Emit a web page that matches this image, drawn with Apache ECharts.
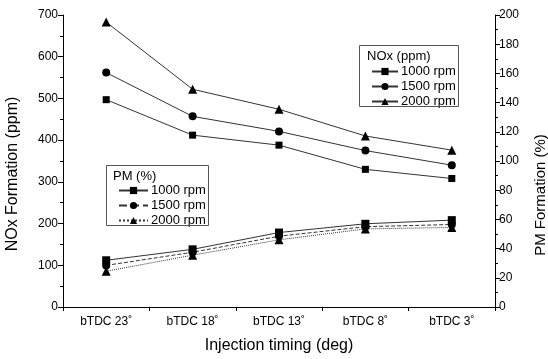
<!DOCTYPE html>
<html><head><meta charset="utf-8">
<script src="https://cdn.jsdelivr.net/npm/echarts@6/dist/echarts.min.js"></script>
<style>html,body{margin:0;padding:0;background:#fff}#c{width:548px;height:359px}</style>
</head><body><div id="c"></div>
<script>
var categories = ['bTDC 23˚', 'bTDC 18˚', 'bTDC 13˚', 'bTDC 8˚', 'bTDC 3˚'];
var nox1000 = [497, 412, 388, 330, 308];
var nox1500 = [562, 457, 421, 375, 340];
var nox2000 = [683, 522, 474, 410, 376];
var pm1000 = [32, 39.5, 51, 57, 59.5];
var pm1500 = [28.5, 37.5, 48.5, 55, 56.5];
var pm2000 = [24.5, 35.5, 46, 53.5, 54.5];
var leftTicks = [0, 100, 200, 300, 400, 500, 600, 700];
var rightTicks = [0, 20, 40, 60, 80, 100, 120, 140, 160, 180, 200];

var FONT = 'Liberation Sans, Arial, sans-serif';
var lineCol = '#333';
function mk(name, data, sym, size, type, yIdx) {
  return {
    name: name, type: 'line', data: data, yAxisIndex: yIdx, xAxisIndex: 0,
    symbol: sym, symbolSize: size, showSymbol: true,
    lineStyle: { color: lineCol, width: 1, type: type },
    itemStyle: { color: '#000' },
    emphasis: { disabled: true }, animation: false
  };
}
var chart = echarts.init(document.getElementById('c'));
var grid = { left: 63, right: 53, top: 15, bottom: 48 };
chart.setOption({
  animation: false,
  textStyle: { fontFamily: FONT },
  grid: grid,
  xAxis: [{
    type: 'category', data: categories, boundaryGap: true,
    name: 'Injection timing (deg)', nameLocation: 'middle', nameGap: 31,
    nameTextStyle: { fontSize: 16, color: '#000', fontFamily: FONT },
    axisLine: { lineStyle: { color: '#000', width: 1 } },
    axisTick: { alignWithLabel: true, length: 5, lineStyle: { color: '#000' } },
    axisLabel: { fontSize: 12, color: '#000', margin: 9, fontFamily: FONT },
    splitLine: { show: false }
  }, {
    type: 'category', data: categories, boundaryGap: true, position: 'bottom',
    axisLine: { show: false },
    axisTick: { show: true, length: 4, lineStyle: { color: '#000' } },
    axisLabel: { show: false }, splitLine: { show: false }
  }],
  yAxis: [{
    type: 'value', min: 0, max: 700, interval: 100, position: 'left',
    axisLine: { show: true, lineStyle: { color: '#000' } },
    axisTick: { show: true, length: 5, lineStyle: { color: '#000' } },
    minorTick: { show: true, splitNumber: 2, length: 3, lineStyle: { color: '#000' } },
    axisLabel: { fontSize: 12, color: '#000', margin: 5, fontFamily: FONT },
    splitLine: { show: false }
  }, {
    type: 'value', min: 0, max: 200, interval: 20, position: 'right',
    axisLine: { show: true, lineStyle: { color: '#000' } },
    axisTick: { show: true, length: 5, lineStyle: { color: '#000' } },
    minorTick: { show: true, splitNumber: 2, length: 3, lineStyle: { color: '#000' } },
    axisLabel: { fontSize: 12, color: '#000', margin: 4, fontFamily: FONT },
    splitLine: { show: false }
  }],
  legend: [{
    data: ['NOx|1000 rpm', 'NOx|1500 rpm', 'NOx|2000 rpm'],
    orient: 'vertical', left: 371, top: 65, itemWidth: 26, itemHeight: 9, itemGap: 2,
    formatter: function (n) { return n.split('|')[1]; },
    textStyle: { fontSize: 13, color: '#000', fontFamily: FONT, padding: [0, 0, 0, -2] },
    selectedMode: false, padding: 0
  }, {
    data: ['PM|1000 rpm', 'PM|1500 rpm', 'PM|2000 rpm'],
    orient: 'vertical', left: 118, top: 184, itemWidth: 29, itemHeight: 9, itemGap: 2,
    formatter: function (n) { return n.split('|')[1]; },
    textStyle: { fontSize: 13, color: '#000', fontFamily: FONT, padding: [0, 0, 0, -2] },
    selectedMode: false, padding: 0
  }],
  graphic: [
    { type: 'rect', shape: { x: 359.5, y: 45.5, width: 99, height: 61 }, style: { fill: 'none', stroke: '#555', lineWidth: 1 }, z: 10 },
    { type: 'text', x: 367, y: 50, style: { text: 'NOx (ppm)', font: '13px ' + FONT, fill: '#000' }, z: 10 },
    { type: 'rect', shape: { x: 106.5, y: 165.5, width: 102, height: 60 }, style: { fill: 'none', stroke: '#555', lineWidth: 1 }, z: 10 },
    { type: 'text', x: 113, y: 170, style: { text: 'PM (%)', font: '13px ' + FONT, fill: '#000' }, z: 10 },
    { type: 'text', x: 13, y: 174, rotation: Math.PI / 2, style: { text: 'NOx Formation (ppm)', font: '16px ' + FONT, fill: '#000', align: 'center', verticalAlign: 'middle' }, z: 10 },
    { type: 'text', x: 541, y: 195, rotation: Math.PI / 2, style: { text: 'PM Formation (%)', font: '15px ' + FONT, fill: '#000', align: 'center', verticalAlign: 'middle' }, z: 10 }
  ],
  series: [
    mk('NOx|1000 rpm', nox1000, 'rect', 7, 'solid', 0),
    mk('NOx|1500 rpm', nox1500, 'circle', 8, 'solid', 0),
    mk('NOx|2000 rpm', nox2000, 'triangle', 9, 'solid', 0),
    mk('PM|1000 rpm', pm1000, 'rect', 8, 'solid', 1),
    mk('PM|1500 rpm', pm1500, 'circle', 8, 'dashed', 1),
    mk('PM|2000 rpm', pm2000, 'triangle', 9, 'dotted', 1)
  ]
});
</script></body></html>
